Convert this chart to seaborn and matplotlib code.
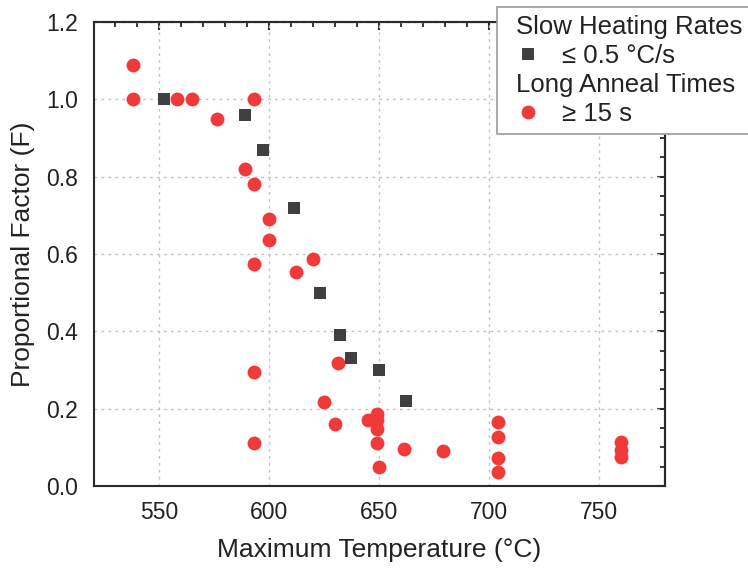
import numpy as np
import pandas as pd
import matplotlib
matplotlib.use("Agg")
import matplotlib.pyplot as plt
from matplotlib.lines import Line2D
from matplotlib.ticker import MultipleLocator
import seaborn as sns

# ---- data ----
slow_x = [552, 589, 597, 611, 623, 632, 637, 650, 662]
slow_y = [1.00, 0.96, 0.87, 0.72, 0.50, 0.39, 0.33, 0.30, 0.22]

long_x = [538, 538, 558, 565, 576, 593, 589, 593, 600, 600, 593, 620, 612,
          631, 593, 625, 630, 645, 649, 649, 649, 649, 661, 650, 593, 679,
          704, 704, 704, 704, 760, 760, 760]
long_y = [1.09, 1.00, 1.00, 1.00, 0.95, 1.00, 0.82, 0.78, 0.69, 0.635, 0.575,
          0.587, 0.553, 0.317, 0.296, 0.217, 0.161, 0.171, 0.187, 0.170, 0.148,
          0.11, 0.096, 0.05, 0.11, 0.09, 0.165, 0.127, 0.073, 0.036, 0.113,
          0.094, 0.075]

x_ticks = [550, 600, 650, 700, 750]
y_ticks = [0.0, 0.2, 0.4, 0.6, 0.8, 1.0, 1.2]

header_slow = "Slow Heating Rates"
label_slow = "\u2264 0.5 \u00b0C/s"
header_long = "Long Anneal Times"
label_long = "\u2265 15 s"

RED = "#F03A3A"
GREY = "#404040"

sns.set_style("white")
plt.rcParams['font.family'] = ['Liberation Sans', 'DejaVu Sans']

df = pd.DataFrame({
    "T": slow_x + long_x,
    "F": slow_y + long_y,
    "group": ["slow"] * len(slow_x) + ["long"] * len(long_x),
})

fig = plt.figure(figsize=(7.48, 5.71), dpi=100)
ax = fig.add_axes([93.5 / 748, 85 / 571, (665.3 - 93.5) / 748, (486 - 22) / 571])

sns.scatterplot(data=df[df.group == "long"], x="T", y="F", color=RED,
                marker="o", s=100, linewidth=0, ax=ax, legend=False, zorder=3)
sns.scatterplot(data=df[df.group == "slow"], x="T", y="F", color=GREY,
                marker="s", s=80, linewidth=0, ax=ax, legend=False, zorder=4)

ax.set_xlim(520, 780)
ax.set_ylim(0, 1.2)
ax.set_xticks(x_ticks)
ax.set_yticks(y_ticks)
ax.set_yticklabels([f"{v:.1f}" for v in y_ticks])
ax.xaxis.set_minor_locator(MultipleLocator(10))
ax.yaxis.set_minor_locator(MultipleLocator(0.05))

spine_c = "#2a2a2a"
for sp in ax.spines.values():
    sp.set_color(spine_c)
    sp.set_linewidth(1.5)

ax.tick_params(axis="both", which="major", direction="out", length=6, width=1.5,
               color=spine_c, labelsize=16.5, labelcolor="#222222", pad=5)
ax.tick_params(axis="both", which="minor", direction="out", length=3.5, width=1.3,
               color=spine_c)

ax.grid(True, which="major", color="#c4c4c4", linestyle=(0, (2, 3)), linewidth=1)
ax.set_axisbelow(True)

# top / right inward ticks
secx = ax.secondary_xaxis("top")
secx.set_xticks(x_ticks)
secx.xaxis.set_minor_locator(MultipleLocator(10))
secx.tick_params(which="major", direction="in", length=6, width=1.5, color=spine_c, labeltop=False)
secx.tick_params(which="minor", direction="in", length=3.5, width=1.3, color=spine_c)
secx.spines["top"].set_linewidth(1.5)
secx.spines["top"].set_color(spine_c)
secy = ax.secondary_yaxis("right")
secy.set_yticks(y_ticks)
secy.yaxis.set_minor_locator(MultipleLocator(0.05))
secy.tick_params(which="major", direction="in", length=6, width=1.5, color=spine_c, labelright=False)
secy.tick_params(which="minor", direction="in", length=3.5, width=1.3, color=spine_c)
secy.spines["right"].set_linewidth(1.5)
secy.spines["right"].set_color(spine_c)

ax.set_xlabel("Maximum Temperature (\u00b0C)", fontsize=19, color="#222222", labelpad=10)
ax.set_ylabel("Proportional Factor (F)", fontsize=19, color="#222222", labelpad=8)

# legend with header rows
blank = Line2D([], [], linestyle="none", marker=None)
h_slow = Line2D([], [], linestyle="none", marker="s", markersize=9, color=GREY, markeredgewidth=0)
h_long = Line2D([], [], linestyle="none", marker="o", markersize=10, color=RED, markeredgewidth=0)
leg = ax.legend([blank, h_slow, blank, h_long],
                [header_slow, label_slow, header_long, label_long],
                loc="upper left", bbox_to_anchor=(497 / 748, 1 - 7 / 571),
                bbox_transform=fig.transFigure, fontsize=18.5, frameon=True,
                fancybox=False, edgecolor="#9a9a9a", framealpha=1,
                handlelength=1.8, handletextpad=0.43, borderpad=0.3,
                labelspacing=0.2, borderaxespad=0)
leg.get_frame().set_linewidth(1.2)
for t in leg.get_texts():
    t.set_color("#222222")
vpack = leg._legend_handle_box.get_children()[0]
for i, hpack in enumerate(vpack.get_children()):
    if i in (0, 2):
        hpack.get_children()[0].set_width(0)
leg.set_zorder(10)

fig.savefig("out.png", dpi=100)
